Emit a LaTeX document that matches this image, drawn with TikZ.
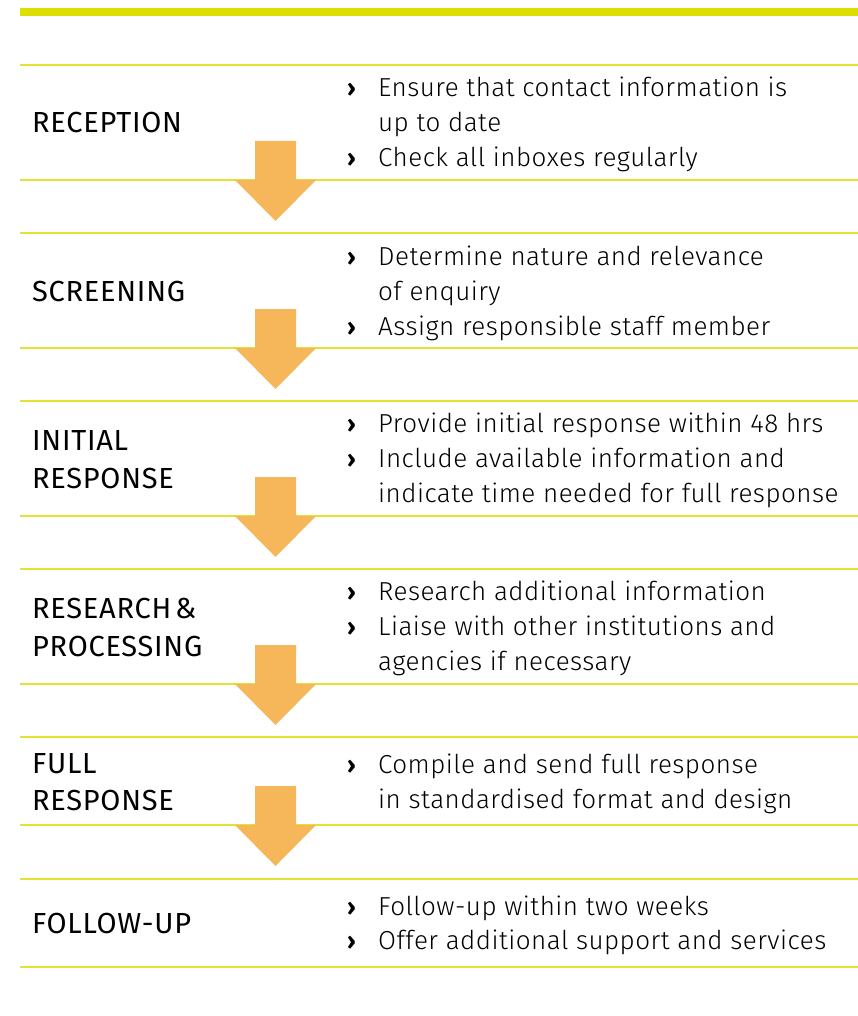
\documentclass[tikz,border=0pt]{standalone}
\usepackage{fontspec}
\setmainfont{Fira Sans}
\newfontfamily\labelfont{Fira Sans}[LetterSpace=2.5]
\newfontfamily\bodyfont{Fira Sans Light}[LetterSpace=1.8]
\newfontfamily\chevfont{Fira Sans Bold}
\definecolor{barYellow}{RGB}{221,221,0}
\definecolor{lineYellow}{RGB}{226,226,50}
\definecolor{arrowOrange}{RGB}{245,183,89}
\begin{document}
\begin{tikzpicture}[x=1pt,y=-1pt,
  lbl/.style={anchor=base west,inner sep=0pt,font=\labelfont\fontsize{29}{35}\selectfont},
  bodytxt/.style={anchor=base west,inner sep=0pt,font=\bodyfont\fontsize{26}{35}\selectfont},
  chev/.style={anchor=base west,inner sep=0pt,font=\chevfont\fontsize{24}{30}\selectfont},
  rule/.style={draw=lineYellow,line width=1.8pt},
  blockarrow/.style={fill=arrowOrange,draw=none}]
\useasboundingbox (0,0) rectangle (858,1016);
% top bar
\fill[barYellow] (20,8) rectangle (858,16);
% section rules
\foreach \t/\b in {65/180,233/348,401/516,569/684,737/825,879/967}{
  \draw[rule] (20,\t) coordinate (top\t) -- (858,\t);
  \draw[rule] (20,\b) coordinate (bot\b) -- (858,\b);
}
% arrows
\foreach \b in {180,348,516,684,825}{
  \fill[blockarrow] (255,\b-39) -- (296,\b-39) -- (296,\b) -- (316,\b)
     -- (275.5,\b+41) -- (235,\b) -- (255,\b) -- cycle;
}
% labels
\node[lbl] (l1) at (32,133) {RECEPTION};
\node[lbl] (l2) at (32,301) {SCREENING};
\node[lbl] (l3a) at (32,450) {INITIAL};
\node[lbl] (l3b) at (32,488) {RESPONSE};
\node[lbl] (l4a) at (32,618) {RESEARCH\hspace{4pt}\&};
\node[lbl] (l4b) at (32,656) {PROCESSING};
\node[lbl] (l5a) at (32,773) {FULL};
\node[lbl] (l5b) at (32,810) {RESPONSE};
\node[lbl] (l6) at (32,933) {FOLLOW-UP};
% chevrons
\foreach \y [count=\i] in {97,167,265,335,432,467,600,635,773,915,949}{
  \node[chev] (c\i) at (347,\y) {›};
}
% body text
\node[bodytxt] (t1a) at (378,97) {Ensure that contact information is};
\node[bodytxt] (t1b) at (378,132) {up to date};
\node[bodytxt] (t1c) at (378,167) {Check all inboxes regularly};
\node[bodytxt] (t2a) at (378,265) {Determine nature and relevance};
\node[bodytxt] (t2b) at (378,300) {of enquiry};
\node[bodytxt] (t2c) at (378,335) {Assign responsible staff member};
\node[bodytxt] (t3a) at (378,432) {Provide initial response within 48 hrs};
\node[bodytxt] (t3b) at (378,467) {Include available information and};
\node[bodytxt] (t3c) at (378,502) {indicate time needed for full response};
\node[bodytxt] (t4a) at (378,600) {Research additional information};
\node[bodytxt] (t4b) at (378,635) {Liaise with other institutions and};
\node[bodytxt] (t4c) at (378,670) {agencies if necessary};
\node[bodytxt] (t5a) at (378,773) {Compile and send full response};
\node[bodytxt] (t5b) at (378,808) {in standardised format and design};
\node[bodytxt] (t6a) at (378,915) {Follow-up within two weeks};
\node[bodytxt] (t6b) at (378,949) {Offer additional support and services};
\end{tikzpicture}
\end{document}
